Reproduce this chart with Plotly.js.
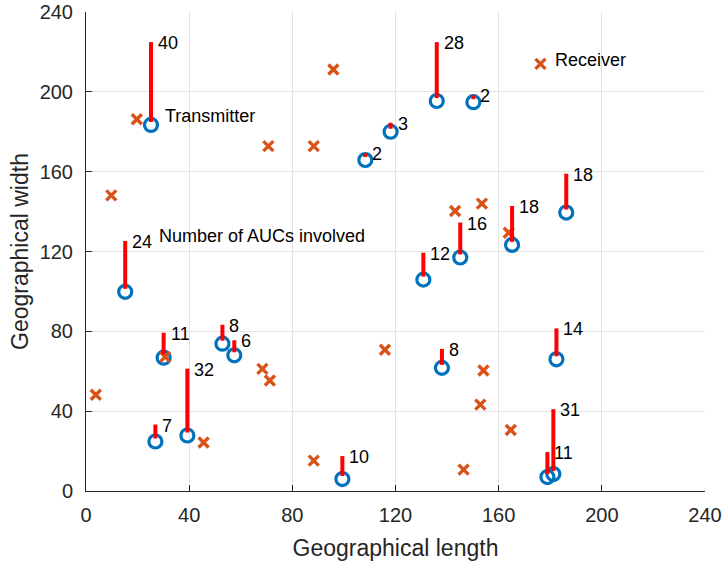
<!DOCTYPE html>
<html>
<head>
<meta charset="utf-8">
<script src="https://cdn.plot.ly/plotly-3.0.1.min.js"></script>
<style>
  html, body { margin: 0; padding: 0; background: #ffffff; }
  #chart { width: 725px; height: 564px; }
</style>
</head>
<body>
<div id="chart"></div>
<script>
// Transmitter sites (geographical length / width) and number of AUCs involved at each
const txLength = [25.2, 15.2, 136.0, 150.2, 118.1, 108.3, 186.2, 165.2, 145.1, 130.8,
                  30.1, 52.9, 57.5, 39.3, 26.9, 99.4, 138.0, 182.4, 181.2, 178.9];
const txWidth  = [183.4, 99.8, 195.4, 194.8, 180.0, 165.8, 139.5, 123.3, 117.0, 105.9,
                  66.8, 73.8, 68.0, 27.8, 24.8, 6.0, 61.7, 66.0, 8.5, 7.0];
const aucCount = [40, 24, 28, 2, 3, 2, 18, 18, 16, 12,
                  11, 8, 6, 32, 7, 10, 8, 14, 31, 11];

// Receiver sites
const rxLength = [19.7, 95.9, 70.7, 88.3, 9.8, 176.2, 143.1, 153.5, 163.9, 3.8,
                  30.7, 68.4, 71.3, 45.6, 88.3, 115.9, 154.1, 152.9, 164.7, 146.4];
const rxWidth  = [186.3, 211.2, 172.8, 172.8, 148.1, 214.0, 140.3, 144.0, 129.4, 48.2,
                  67.2, 61.2, 55.4, 24.3, 15.2, 70.8, 60.4, 43.3, 30.6, 10.7];

const axisTicks = [0, 40, 80, 120, 160, 200, 240];

// Stems rise from just above each transmitter marker by the AUC count
const STEM_BASE = 1.5;
const stemX = [], stemY = [];
txLength.forEach((x, i) => {
  const y0 = txWidth[i] + STEM_BASE;
  stemX.push(x, x, null);
  stemY.push(y0, y0 + aucCount[i], null);
});

const FONT = 'Liberation Sans, Arial, Helvetica, sans-serif';
const INK = '#262626';

const traces = [
  {
    type: 'scatter', mode: 'markers',
    x: txLength, y: txWidth,
    marker: { symbol: 'circle-open', size: 13, color: '#0072BD',
              line: { color: '#0072BD', width: 3.2 } },
    hoverinfo: 'x+y'
  },
  {
    type: 'scatter', mode: 'markers',
    x: rxLength, y: rxWidth,
    marker: { symbol: 'x-thin-open', size: 10, color: '#D95319',
              line: { color: '#D95319', width: 3.4 } },
    hoverinfo: 'x+y'
  },
  {
    type: 'scatter', mode: 'lines',
    x: stemX, y: stemY,
    line: { color: '#FF0000', width: 4 },
    connectgaps: false,
    hoverinfo: 'skip'
  }
];

// Count labels at the top of every stem
const annotations = txLength.map((x, i) => ({
  x: x, y: txWidth[i] + STEM_BASE + aucCount[i],
  xref: 'x', yref: 'y',
  text: String(aucCount[i]),
  showarrow: false, xanchor: 'left', yanchor: 'middle',
  xshift: 5, yshift: -1,
  font: { family: FONT, size: 18, color: '#000000' }
}));

annotations.push(
  { x: 30.0, y: 188.0, xref: 'x', yref: 'y', text: 'Transmitter',
    showarrow: false, xanchor: 'left', yanchor: 'middle',
    font: { family: FONT, size: 18, color: '#000000' } },
  { x: 181.0, y: 216.1, xref: 'x', yref: 'y', text: 'Receiver',
    showarrow: false, xanchor: 'left', yanchor: 'middle',
    font: { family: FONT, size: 18, color: '#000000' } },
  { x: 27.6, y: 127.9, xref: 'x', yref: 'y', text: 'Number of AUCs involved',
    showarrow: false, xanchor: 'left', yanchor: 'middle',
    font: { family: FONT, size: 18, color: '#000000' } }
);

const axisCommon = {
  range: [0, 240],
  tickvals: axisTicks,
  ticktext: axisTicks.map(String),
  ticks: 'inside', ticklen: 6, tickwidth: 1, tickcolor: INK,
  showline: true, linecolor: INK, linewidth: 1,
  showgrid: true, gridcolor: '#e3e3e3', gridwidth: 1,
  zeroline: false,
  ticklabeloverflow: 'allow',
  tickfont: { family: FONT, size: 20, color: INK },
  fixedrange: true
};

const layout = {
  width: 725, height: 564,
  margin: { l: 86, r: 20, t: 12, b: 73, pad: 0 },
  paper_bgcolor: '#ffffff', plot_bgcolor: '#ffffff',
  showlegend: false,
  xaxis: Object.assign({}, axisCommon, {
    ticklabelstandoff: 6,
    title: { text: 'Geographical length', standoff: 14,
             font: { family: FONT, size: 23, color: INK } }
  }),
  yaxis: Object.assign({}, axisCommon, {
    ticklabelstandoff: 8,
    title: { text: 'Geographical width', standoff: 4,
             font: { family: FONT, size: 23, color: INK } }
  }),
  annotations: annotations
};

Plotly.newPlot('chart', traces, layout, { displayModeBar: false, staticPlot: true });
</script>
</body>
</html>
